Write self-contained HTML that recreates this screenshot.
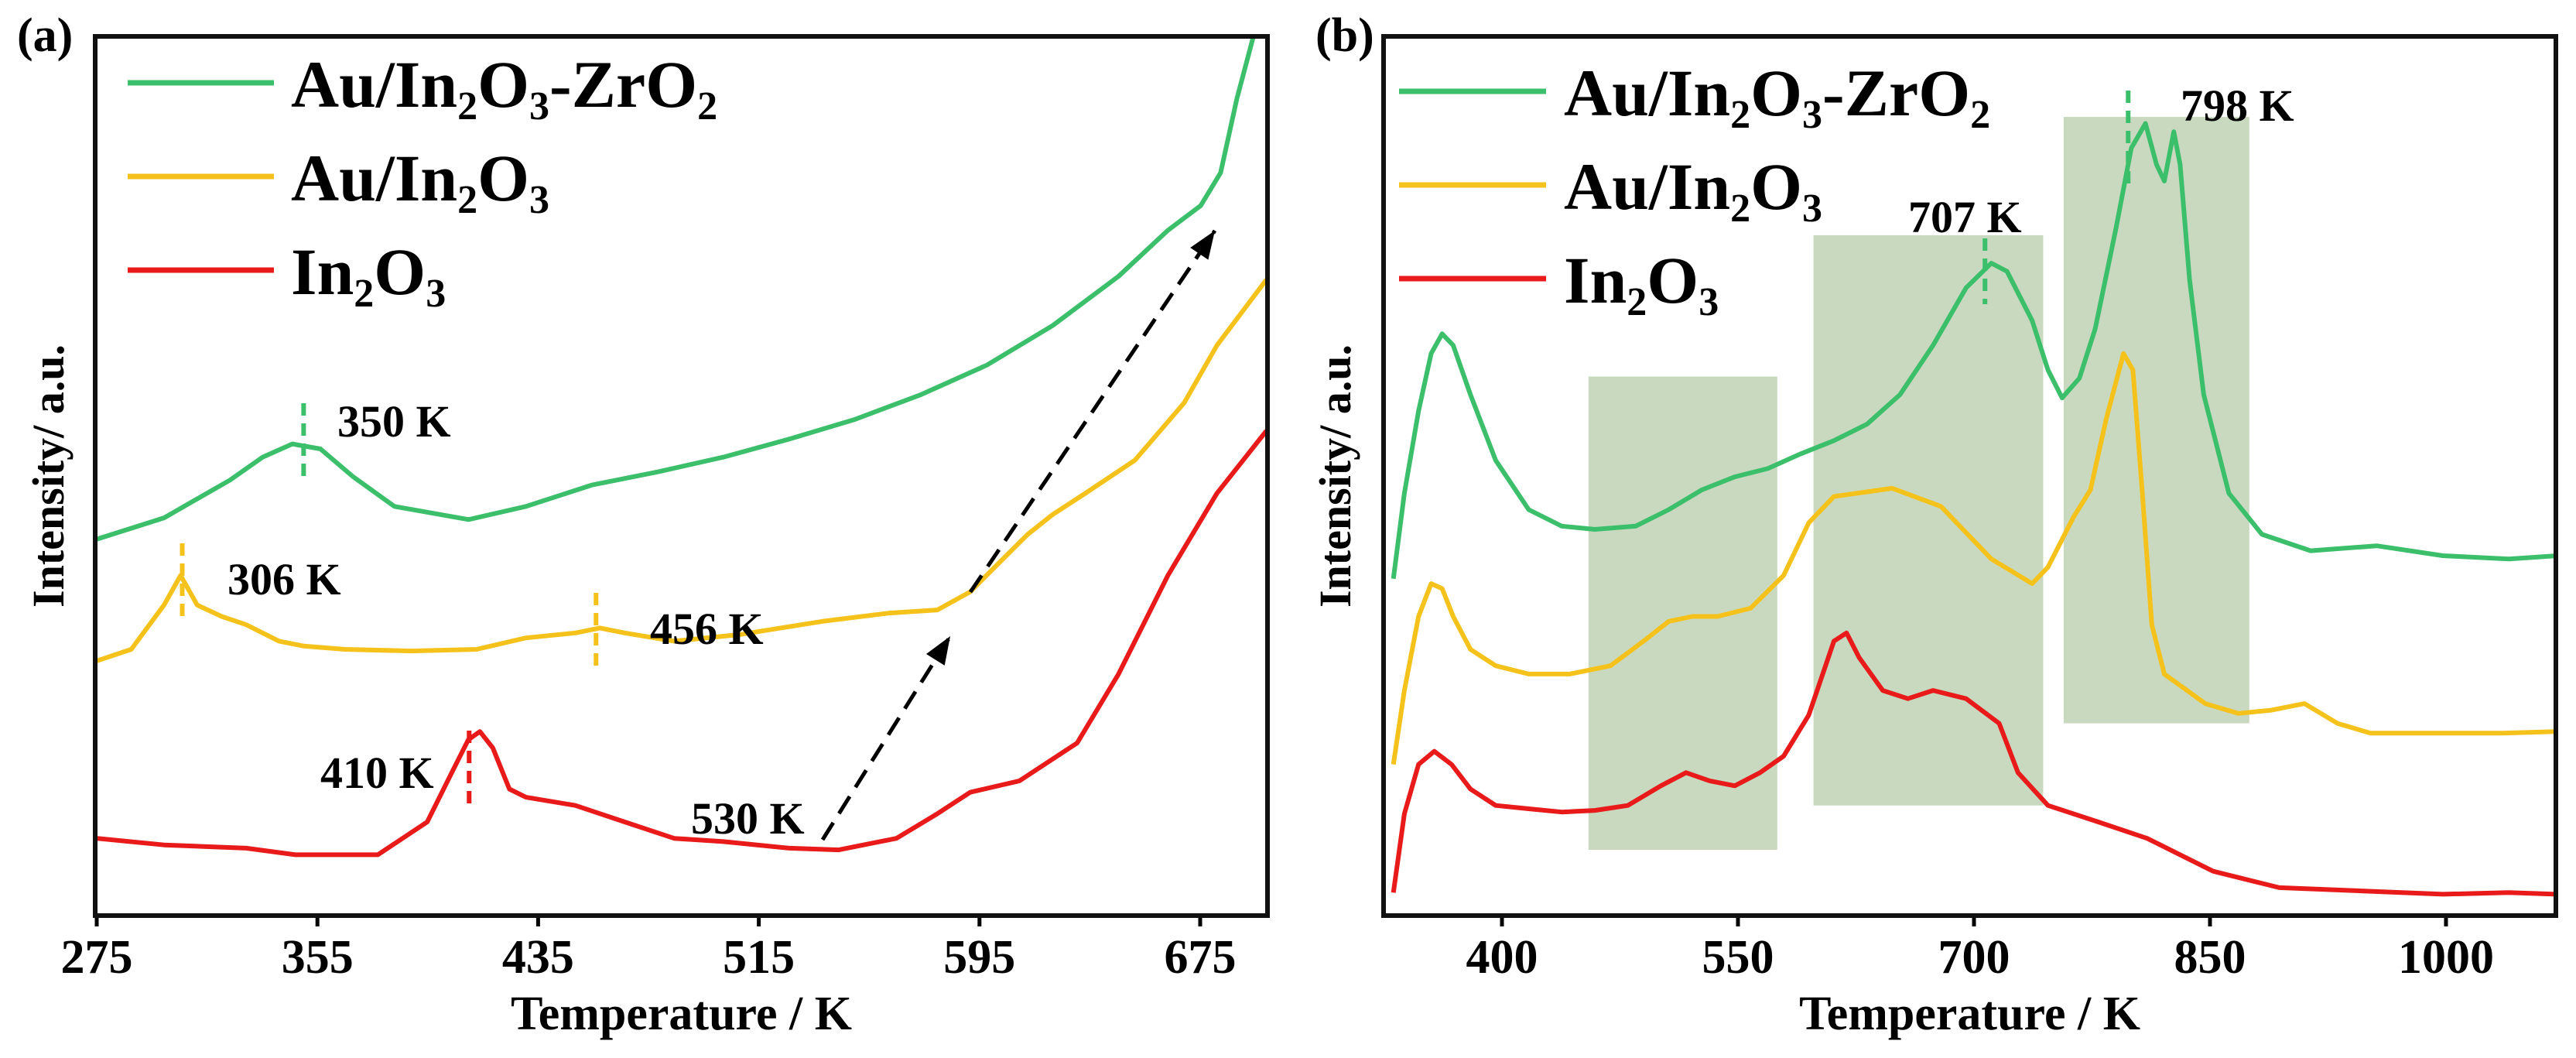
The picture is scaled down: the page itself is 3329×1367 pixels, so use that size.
<!DOCTYPE html>
<html><head><meta charset="utf-8"><style>
html,body{margin:0;padding:0;background:#fff;}
svg{display:block;font-family:"Liberation Serif",serif;font-weight:bold;}
</style></head><body>
<svg id="c" width="3329" height="1367" viewBox="0 0 3329 1367" xmlns="http://www.w3.org/2000/svg">
<g id="gA"></g>
<g id="gB"></g>
</svg>
<script>
// ---- Panel (a) data: temperature (K) and intensity (a.u.) ----
const aGreenT=[275,299.4,323.3,335.2,345.9,356.1,368,382.9,409.8,430.6,454.5,478.4,502.2,526.1,550,573.8,597.7,621.5,645.4,663.3,675.2,682.4,688.3,694.3];
const aGreenI=[229,242,265,279,287,284,267,249,241,249,262,270,279,290,302,317,335,359,389,417,432,452,497,535];
const aYellowT=[275,287.5,299.4,305.4,311.4,320.3,329.2,341.1,350.1,365,388.8,412.7,430.6,448.5,457.4,466.4,484.3,508.1,537.9,561.8,579.7,591.6,603.5,612.5,621.5,633.4,651.3,669.2,681.1,699];
const aYellowI=[155,162,189,207,189,182,177,167,164,162,161,162,169,172,175,172,167,171,179,184,186,197,217,232,244,257,277,312,347,387];
const aRedT=[275,299.4,329.2,347.1,376.9,394.8,403.7,409.7,413.9,418.6,424.6,430.6,448.5,466.4,484.3,502.2,526.1,544,564.9,579.7,591.6,609.5,630.4,645.4,663.3,681.1,699];
const aRedI=[47,43,41,37,37,57,87,107,112,102,77,72,67,57,47,45,41,40,47,62,75,82,105,147,207,257,295];
// ---- Panel (b) data ----
const bGreenT=[331,338,347,355,362,369,380,396,417,438,459,485,506,527,548,569,590,611,632,653,674,695,711,721,737,747,756,767,777,790,800,809,816,821,827,831,837,846,862,883,914,956,998,1040,1071];
const bGreenI=[205,257,307,342,354,347,317,277,247,237,235,237,247,259,267,272,281,289,299,317,347,382,397,392,362,332,315,327,357,417,467,482,457,447,477,457,387,317,257,232,222,225,219,217,219];
const bYellowT=[331,338,347,355,362,369,380,396,417,443,469,490,506,521,537,558,579,595,611,648,679,711,737,747,763,774,784,795,801,807,813,821,847,868,889,910,931,952,994,1036,1071];
const bYellowI=[92,137,182,202,199,182,162,152,147,147,152,167,179,182,182,187,207,239,255,260,249,217,202,212,242,259,302,342,332,257,177,147,129,123,125,129,117,111,111,111,112];
const bRedT=[331,338,347,357,368,380,396,417,438,459,480,501,517,532,548,564,579,595,611,619,627,642,658,674,695,716,728,747,779,810,831,852,894,946,998,1040,1071];
const bRedI=[14,62,92,100,92,77,67,65,63,64,67,79,87,82,79,87,97,122,167,172,157,137,132,137,132,117,87,67,57,47,37,27,17,15,13,14,13];
const bBoxT=[[455,575],[598,744],[757,875]];
const bBoxI=[[40,328],[67,414],[117,486]];

const NS="http://www.w3.org/2000/svg";
function el(p,tag,attrs){const e=document.createElementNS(NS,tag);for(const k in attrs)e.setAttribute(k,attrs[k]);p.appendChild(e);return e;}
const TOP=47,BOT=1183,IMAX=535;
function yS(v){return BOT-(v/IMAX)*(BOT-TOP);}

function frame(g,x0,x1,xs,ticks){
  ticks.forEach(t=>{
    const x=xs(t);
    const tk=el(g,'line',{x1:x,x2:x,y1:BOT,y2:BOT+14,stroke:'#000','stroke-width':5});
    
    
    const tx=el(g,'text',{x:x,y:1257,'font-size':62,'text-anchor':'middle'});
    tx.textContent=t;
    
    
  });
  const r=el(g,'rect',{x:x0,y:TOP,width:x1-x0,height:BOT-TOP,fill:'none',stroke:'#111','stroke-width':6});
  
  
  const xt=el(g,'text',{x:(x0+x1)/2,y:1330,'font-size':62,'text-anchor':'middle'});
  xt.textContent='Temperature / K';
  
  
}
function series(g,T,I,xs,color,name){
  let d='';T.forEach((t,i)=>{d+=(i?'L':'M')+xs(t).toFixed(1)+','+yS(I[i]).toFixed(1);});
  const p=el(g,'path',{d:d,fill:'none',stroke:color,'stroke-width':6,'stroke-linejoin':'round'});
  
  
}
function legend(g,lx0,lx1,tx,ys){
  const items=[['#3cbf6a',[['Au/In',0],['2',1],['O',0],['3',1],['-ZrO',0],['2',1]]],['#f5c21b',[['Au/In',0],['2',1],['O',0],['3',1]]],['#e81a1a',[['In',0],['2',1],['O',0],['3',1]]]];
  items.forEach((it,i)=>{
    const y=ys[i];
    const l=el(g,'line',{x1:lx0,x2:lx1,y1:y,y2:y,stroke:it[0],'stroke-width':7});
    
    
    const t=el(g,'text',{x:tx,y:y+31,'font-size':86});
    
    
    it[1].forEach(s=>{const ts=el(t,'tspan',s[1]?{'font-size':52,dy:16}:{'font-size':86,dy:0});if(!s[1]&&t.childNodes.length>1)ts.setAttribute('dy',-16);ts.textContent=s[0];});
  });
}
function dash(g,x,y1,y2,color){
  const l=el(g,'line',{x1:x,x2:x,y1:y1,y2:y2,stroke:color,'stroke-width':6,'stroke-dasharray':'16,10'});
  
  
}
function label(g,x,y,txt){
  const t=el(g,'text',{x:x,y:y,'font-size':58});
  t.textContent=txt;
  
  
}
function ylab(g,x,y){
  const t=el(g,'text',{x:x,y:y,'font-size':58,'text-anchor':'middle',transform:'rotate(-90 '+x+' '+y+')'});
  t.textContent='Intensity/ a.u.';
  
  
}
function plabel(g,x,y,s){
  const t=el(g,'text',{x:x,y:y,'font-size':62});
  t.textContent=s;
  
  
}

// Panel a
const gA=document.getElementById('gA');
const xa=t=>125+(t-275)*3.565;
plabel(gA,22,66,'(a)');
ylab(gA,82,615);
series(gA,aRedT,aRedI,xa,'#e81a1a','series-in2o3');
series(gA,aYellowT,aYellowI,xa,'#f5c21b','series-au-in2o3');
series(gA,aGreenT,aGreenI,xa,'#3cbf6a','series-au-in2o3-zro2');
frame(gA,123,1638,xa,[275,355,435,515,595,675]);
legend(gA,165,354,376,[107,228,349]);
dash(gA,xa(350),521,623,'#3cbf6a'); label(gA,436,564,'350 K');
dash(gA,xa(306),702,804,'#f5c21b'); label(gA,294,768,'306 K');
dash(gA,xa(456),766,868,'#f5c21b'); label(gA,840,832,'456 K');
dash(gA,xa(410),944,1042,'#e81a1a'); label(gA,414,1018,'410 K');
label(gA,893,1077,'530 K');
// arrows
[[1063,1085,1228,822],[1254,765,1570,298]].forEach(a=>{
  const l=el(gA,'line',{x1:a[0],y1:a[1],x2:a[2],y2:a[3],stroke:'#000','stroke-width':5,'stroke-dasharray':'26,14'});
  
  
  const ang=Math.atan2(a[3]-a[1],a[2]-a[0]);const L=36,W=14;
  const bx=a[2]-L*Math.cos(ang),by=a[3]-L*Math.sin(ang);
  const pts=[a[2]+','+a[3],(bx+W*Math.sin(ang))+','+(by-W*Math.cos(ang)),(bx-W*Math.sin(ang))+','+(by+W*Math.cos(ang))].join(' ');
  const h=el(gA,'polygon',{points:pts,fill:'#000'});
  
  
});

// Panel b
const gB=document.getElementById('gB');
const xb=t=>1941+(t-400)*2.0333;
plabel(gB,1700,66,'(b)');
ylab(gB,1745,615);
bBoxT.forEach((b,i)=>{
  const r=el(gB,'rect',{x:xb(b[0]),y:yS(bBoxI[i][1]),width:xb(b[1])-xb(b[0]),height:yS(bBoxI[i][0])-yS(bBoxI[i][1]),fill:'#c9d9c0'});
  
  
});
series(gB,bRedT,bRedI,xb,'#e81a1a','series-in2o3');
series(gB,bYellowT,bYellowI,xb,'#f5c21b','series-au-in2o3');
series(gB,bGreenT,bGreenI,xb,'#3cbf6a','series-au-in2o3-zro2');
frame(gB,1788,3303,xb,[400,550,700,850,1000]);
legend(gB,1808,1998,2021,[118,239,360]);
dash(gB,xb(707),308,393,'#3cbf6a'); label(gB,2466,300,'707 K');
dash(gB,xb(798),117,245,'#3cbf6a'); label(gB,2818,156,'798 K');
</script>
</body></html>
